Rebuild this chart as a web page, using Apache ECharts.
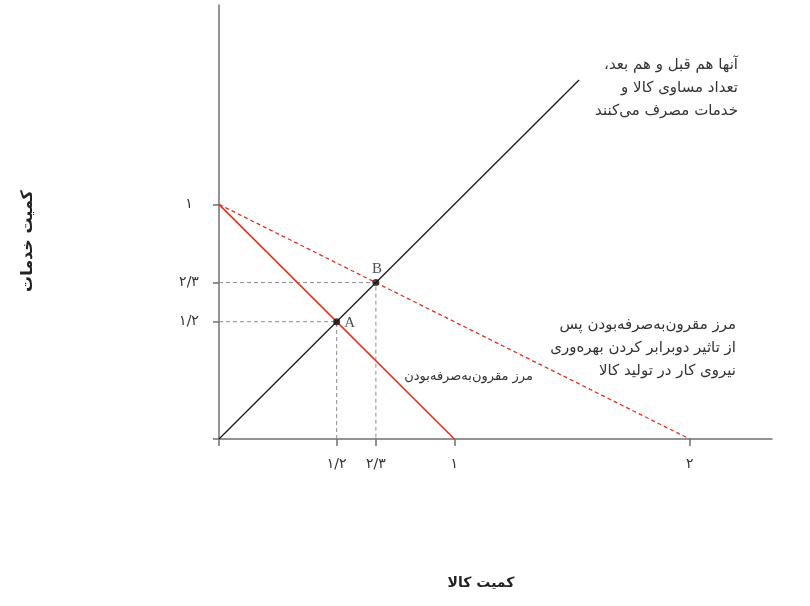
<!DOCTYPE html>
<html>
<head>
<meta charset="utf-8">
<script src="https://cdn.jsdelivr.net/npm/echarts@6/dist/echarts.min.js"></script>
<style>
  html, body { margin: 0; padding: 0; background: #fff; }
  #chart { width: 810px; height: 606px; }
</style>
</head>
<body>
<div id="chart"></div>
<script>
// tick positions and their persian labels
var tickValues = [0, 1 / 2, 2 / 3, 1, 2];
var tickLabels = ['', '۱/۲', '۲/۳', '۱', '۲'];
var yTickValues = [0, 1 / 2, 2 / 3, 1];

// lines
var equalLine = [[0, 0], [1.53, 1.53]];
var frontier = [[0, 1], [1, 0]];
var frontierAfter = [[0, 1], [2, 0]];
var guideA = [[0, 1 / 2], [1 / 2, 1 / 2], [1 / 2, 0]];
var guideB = [[0, 2 / 3], [2 / 3, 2 / 3], [2 / 3, 0]];
var pointA = [1 / 2, 1 / 2];
var pointB = [2 / 3, 2 / 3];

var RLM = '\u200F';
var persianFont = '"DejaVu Sans", sans-serif';
var red = '#e2321f';
var axisGray = '#707070';

function labelFor(v) {
    for (var i = 0; i < tickValues.length; i++) {
        if (Math.abs(tickValues[i] - v) < 1e-6) return tickLabels[i];
    }
    return '';
}

function rtl(lines) {
    return lines.map(function (s) { return RLM + s + RLM; }).join('\n');
}

var myChart = echarts.init(document.getElementById('chart'), null, { renderer: 'canvas' });

var pointLabel = {
    show: true,
    fontFamily: '"Liberation Serif", serif',
    fontSize: 15,
    color: '#222'
};

var option = {
    backgroundColor: '#fff',
    animation: false,
    grid: { left: 219, right: 38, top: 5, bottom: 167 },
    xAxis: {
        type: 'value',
        min: 0,
        max: 2.35,
        splitLine: { show: false },
        axisLine: { lineStyle: { color: axisGray, width: 1.5 } },
        axisTick: { show: true, length: 7, customValues: tickValues, lineStyle: { color: axisGray, width: 1.5 } },
        axisLabel: {
            customValues: tickValues.slice(1),
            formatter: labelFor,
            margin: 18,
            color: '#333',
            fontSize: 14,
            fontFamily: persianFont
        }
    },
    yAxis: {
        type: 'value',
        min: 0,
        max: 1.85,
        splitLine: { show: false },
        axisLine: { lineStyle: { color: axisGray, width: 1.5 } },
        axisTick: { show: true, length: 6, customValues: yTickValues, lineStyle: { color: axisGray, width: 1.5 } },
        axisLabel: {
            customValues: yTickValues.slice(1),
            formatter: labelFor,
            margin: 30,
            align: 'center',
            color: '#333',
            fontSize: 14,
            fontFamily: persianFont
        }
    },
    series: [
        {
            type: 'line', data: guideA, symbol: 'none',
            lineStyle: { color: '#8c8c8c', width: 1, type: [4, 3] }
        },
        {
            type: 'line', data: guideB, symbol: 'none',
            lineStyle: { color: '#8c8c8c', width: 1, type: [4, 3] }
        },
        {
            type: 'line', data: equalLine, symbol: 'none',
            lineStyle: { color: '#1a1a1a', width: 1.3 }
        },
        {
            type: 'line', data: frontier, symbol: 'none',
            lineStyle: { color: red, width: 1.6 }
        },
        {
            type: 'line', data: frontierAfter, symbol: 'none',
            lineStyle: { color: red, width: 1.3, type: [4, 3] }
        },
        {
            type: 'scatter', symbolSize: 7, z: 5,
            itemStyle: { color: '#111' },
            data: [
                { value: pointA, label: Object.assign({ formatter: 'A', position: 'right', distance: 4, offset: [0, 1] }, pointLabel) },
                { value: pointB, label: Object.assign({ formatter: 'B', position: 'top', distance: 3, offset: [1, 0] }, pointLabel) }
            ]
        }
    ],
    graphic: [
        {
            type: 'text', x: 738, y: 54,
            style: {
                text: rtl(['آنها هم قبل و هم بعد،', 'تعداد مساوی کالا و', 'خدمات مصرف می\u200Cکنند']),
                fill: '#333', font: '15px ' + persianFont, align: 'right', lineHeight: 23
            }
        },
        {
            type: 'text', x: 736, y: 314,
            style: {
                text: rtl(['مرز مقرون\u200Cبه\u200Cصرفه\u200Cبودن پس', 'از تاثیر دوبرابر کردن بهره\u200Cوری', 'نیروی کار در تولید کالا']),
                fill: '#333', font: '15px ' + persianFont, align: 'right', lineHeight: 23
            }
        },
        {
            type: 'text', x: 533, y: 370,
            style: {
                text: rtl(['مرز مقرون\u200Cبه\u200Cصرفه\u200Cبودن']),
                fill: '#333', font: '13px ' + persianFont, align: 'right'
            }
        },
        {
            type: 'text', x: 481, y: 583,
            style: {
                text: 'کمیت کالا',
                fill: '#222', font: 'bold 14px ' + persianFont, align: 'center', verticalAlign: 'middle'
            }
        },
        {
            type: 'text', x: 28, y: 241, rotation: Math.PI / 2,
            style: {
                text: 'کمیت خدمات',
                fill: '#222', font: 'bold 16px ' + persianFont, align: 'center', verticalAlign: 'middle'
            }
        }
    ]
};

myChart.setOption(option);
</script>
</body>
</html>
